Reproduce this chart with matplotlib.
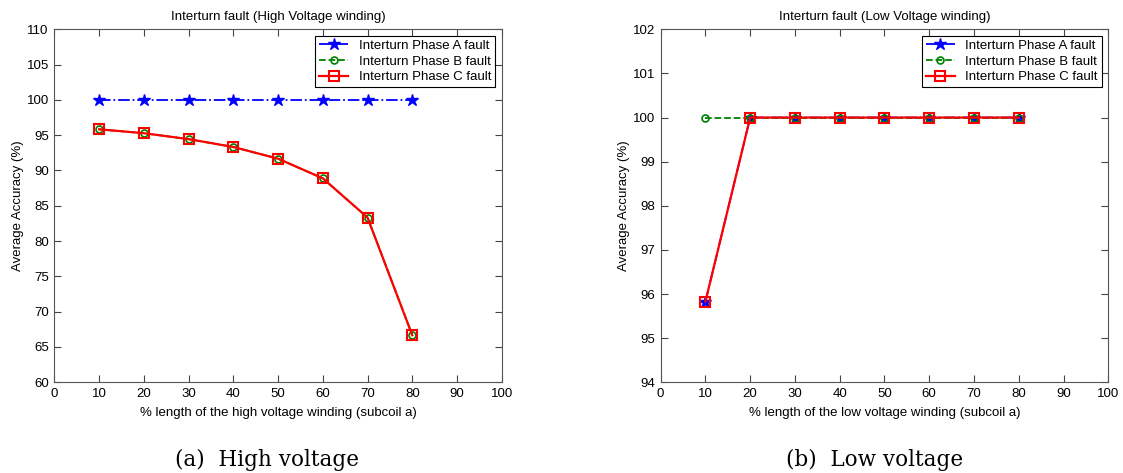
import numpy as np
import matplotlib.pyplot as plt

plt.rcParams['font.family'] = ['Liberation Sans', 'DejaVu Sans']

# % length of subcoil a
x = [10, 20, 30, 40, 50, 60, 70, 80]

# high voltage winding
hv_a = [100, 100, 100, 100, 100, 100, 100, 100]
hv_b = [95.83, 95.28, 94.44, 93.33, 91.67, 88.89, 83.33, 66.67]
hv_c = [95.83, 95.28, 94.44, 93.33, 91.67, 88.89, 83.33, 66.67]

# low voltage winding
lv_a = [95.83, 100, 100, 100, 100, 100, 100, 100]
lv_b = [100, 100, 100, 100, 100, 100, 100, 100]
lv_c = [95.83, 100, 100, 100, 100, 100, 100, 100]

labels = ['Interturn Phase A fault', 'Interturn Phase B fault', 'Interturn Phase C fault']
fs = 9.5


def draw(ax, a, b, c, title, xlabel, ylim, yticks):
    ax.plot(x, a, 'b-.', marker='*', markersize=9, lw=1.3, label=labels[0])
    ax.plot(x, b, 'g--', marker='o', markersize=5, mfc='none', mew=1.2, lw=1.3, label=labels[1])
    ax.plot(x, c, 'r-', marker='s', markersize=7, mfc='none', mew=1.5, lw=1.6, label=labels[2])
    ax.set_xlim(0, 100)
    ax.set_ylim(*ylim)
    ax.set_xticks(np.arange(0, 101, 10))
    ax.set_yticks(yticks)
    ax.tick_params(direction='in', top=True, right=True, labelsize=fs, length=5,
                   color='#444444', pad=4)
    for s in ax.spines.values():
        s.set_color('#555555')
    ax.set_title(title, fontsize=fs, pad=7)
    ax.set_xlabel(xlabel, fontsize=fs, labelpad=5)
    ax.set_ylabel('Average Accuracy (%)', fontsize=fs, labelpad=2)
    leg = ax.legend(loc='upper right', fontsize=fs, fancybox=False, framealpha=1,
                    borderaxespad=0.5, handlelength=2.2, labelspacing=0.25, borderpad=0.3)
    leg.get_frame().set_edgecolor('black')
    leg.get_frame().set_linewidth(0.8)


fig = plt.figure(figsize=(11.23, 4.73), dpi=100)
ax1 = fig.add_axes([0.0484, 0.1918, 0.3984, 0.7463])
ax2 = fig.add_axes([0.5883, 0.1918, 0.3986, 0.7463])

draw(ax1, hv_a, hv_b, hv_c, 'Interturn fault (High Voltage winding)',
     '% length of the high voltage winding (subcoil a)', (60, 110), np.arange(60, 111, 5))
draw(ax2, lv_a, lv_b, lv_c, 'Interturn fault (Low Voltage winding)',
     '% length of the low voltage winding (subcoil a)', (94, 102), np.arange(94, 103, 1))

fig.text(0.238, 0.015, '(a)  High voltage', ha='center', fontsize=15.5, family='DejaVu Serif')
fig.text(0.779, 0.015, '(b)  Low voltage', ha='center', fontsize=15.5, family='DejaVu Serif')

fig.savefig('out.png', dpi=100)
